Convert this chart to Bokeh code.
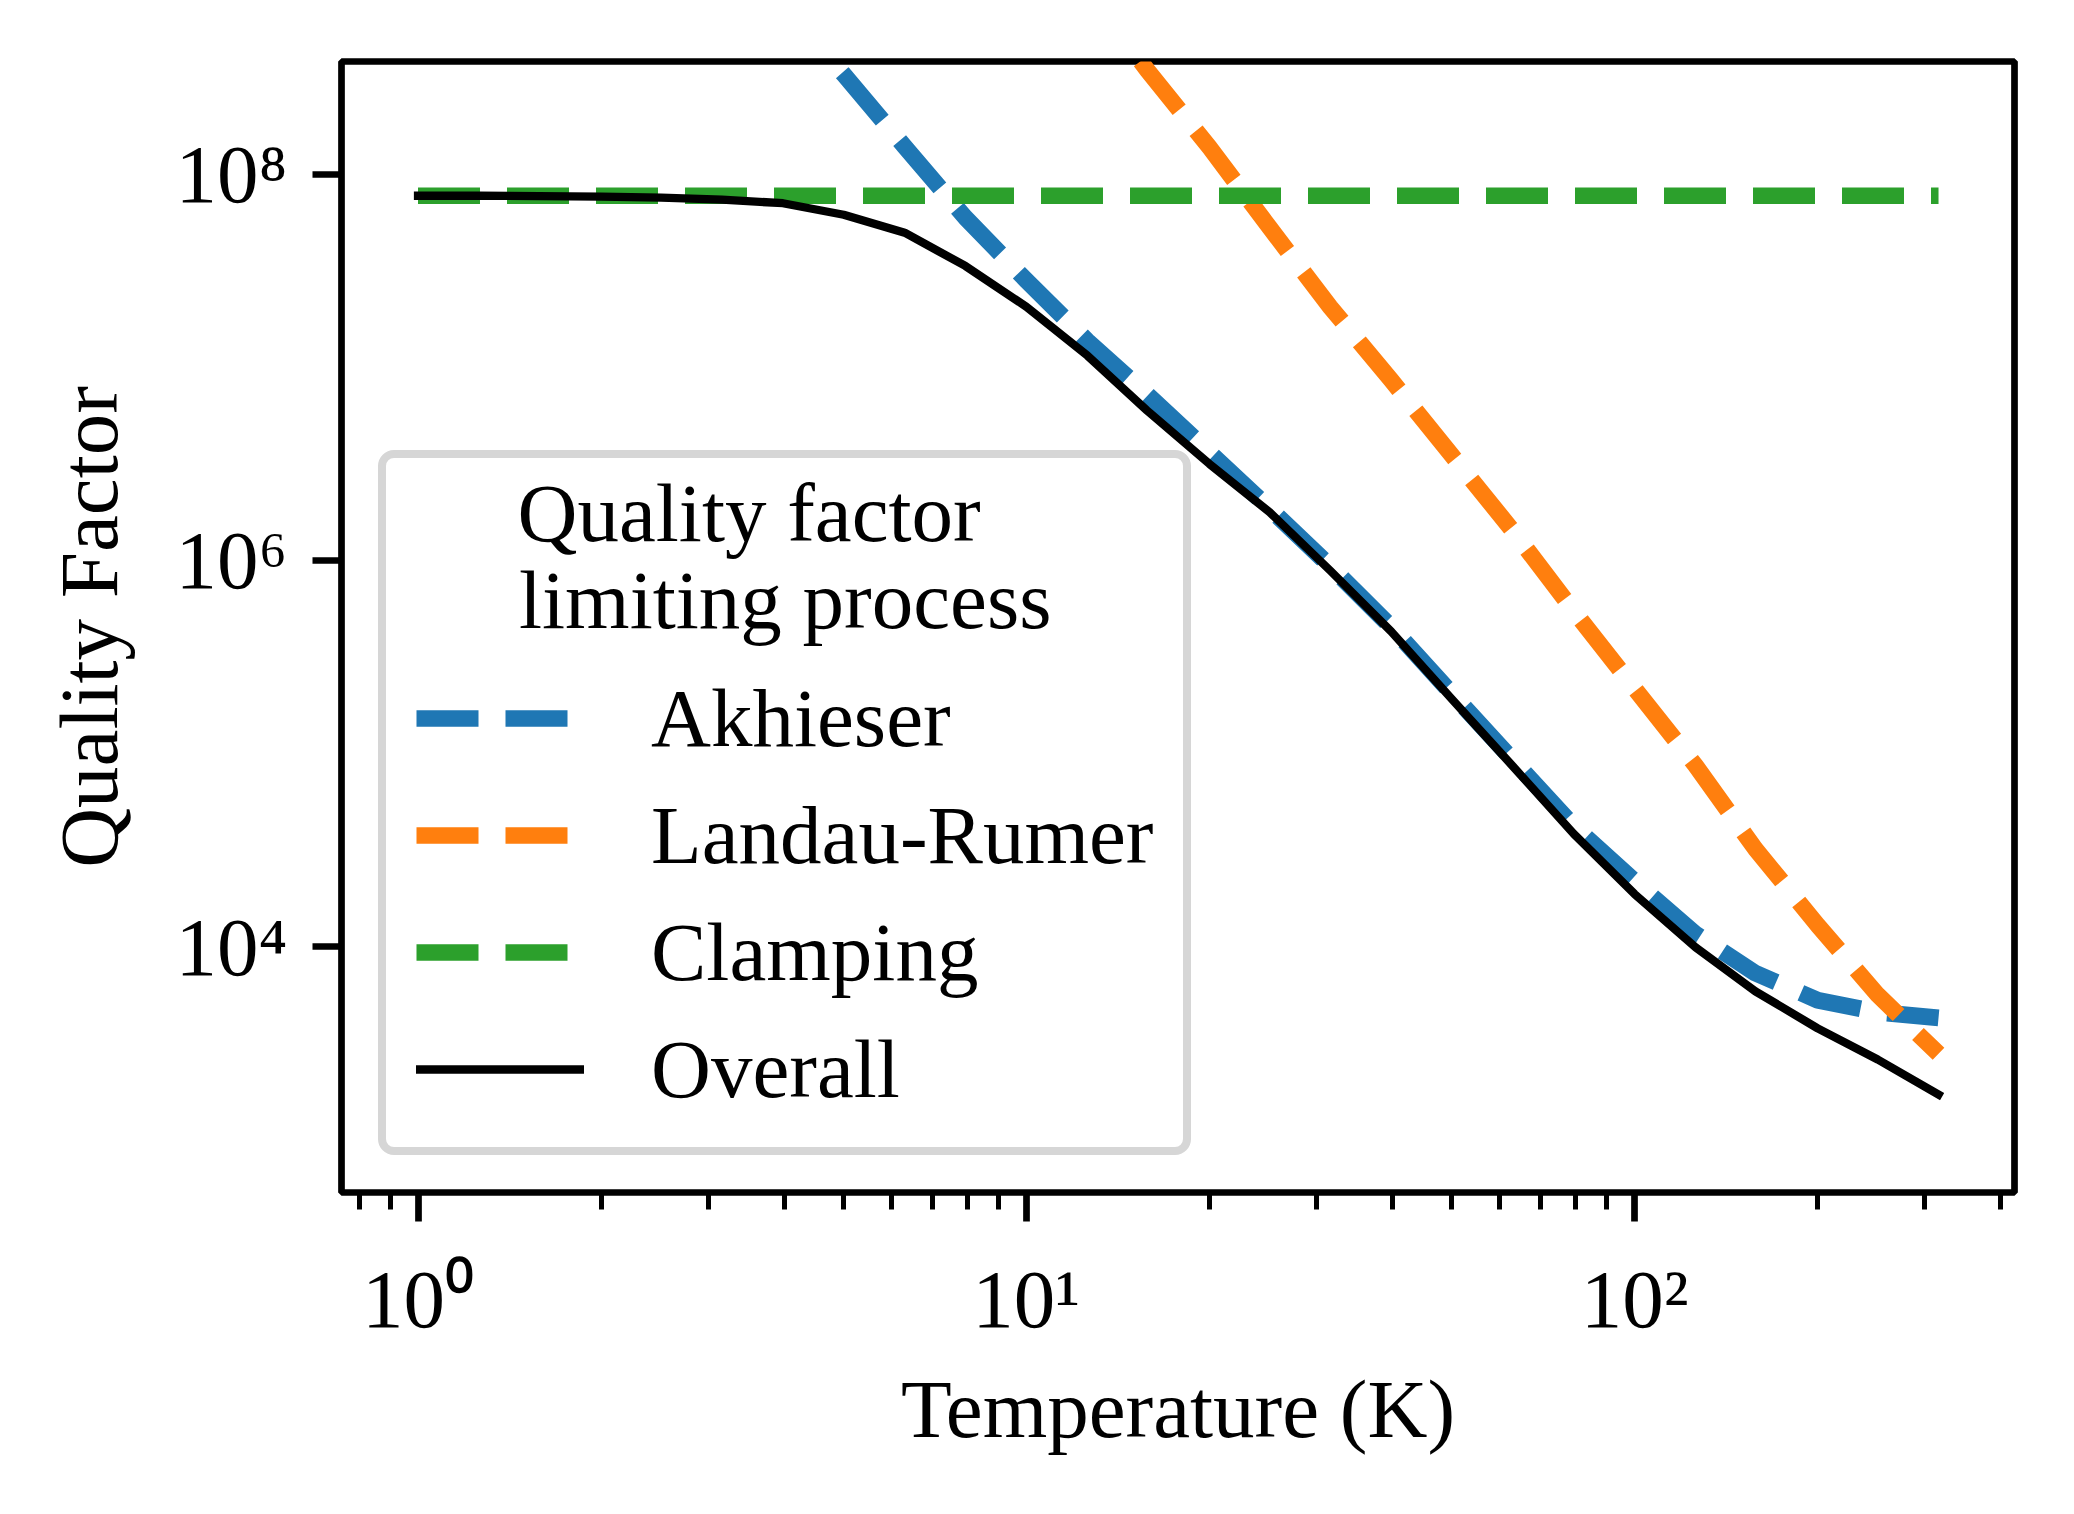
import math
from bokeh.plotting import figure
from bokeh.models import Range1d, FixedTicker, Label, Legend, LegendItem
from bokeh.embed import file_html
from bokeh.resources import INLINE

# ---------------- data ----------------
T_overall = [1.0, 1.26, 1.58, 2.0, 2.51, 3.16, 3.98, 5.01, 6.31, 7.94, 10.0, 12.6, 15.8,
             20.0, 25.1, 31.6, 39.8, 50.1, 63.1, 79.4, 100.0, 126.0, 158.0, 200.0, 251.0, 316.0]
Q_overall = [7.74e7, 7.74e7, 7.71e7, 7.66e7, 7.57e7, 7.38e7, 7.08e7, 6.17e7, 4.98e7, 3.35e7,
             2.06e7, 1.15e7, 5.97e6, 3.16e6, 1.78e6, 8.85e5, 4.28e5, 1.91e5, 8.57e4, 3.84e4,
             1.87e4, 9.89e3, 5.86e3, 3.77e3, 2.60e3, 1.71e3]

T_akhieser = [3.98, 5.01, 6.31, 7.94, 10.0, 12.6, 15.8, 20.0, 25.1, 31.6, 39.8, 50.1, 63.1,
              79.4, 100.0, 126.0, 158.0, 200.0, 251.0, 316.0]
Q_akhieser = [7.41e8, 3.29e8, 1.39e8, 5.96e7, 2.82e7, 1.37e7, 7.24e6, 3.63e6, 1.86e6, 9.33e5,
              4.52e5, 2.04e5, 9.23e4, 4.22e4, 2.18e4, 1.16e4, 7.28e3, 5.27e3, 4.57e3, 4.27e3]

T_landau = [12.6, 15.8, 20.0, 25.1, 31.6, 39.8, 50.1, 63.1, 79.4, 100.0, 126.0, 158.0, 200.0,
            251.0, 316.0]
Q_landau = [9.02e8, 3.47e8, 1.38e8, 5.31e7, 2.05e7, 8.59e6, 3.49e6, 1.42e6, 5.48e5, 2.17e5,
            8.65e4, 3.20e4, 1.29e4, 5.62e3, 2.78e3]

T_clamping = [1.0, 316.0]
Q_clamping = [7.74e7, 7.74e7]

x_major = [1, 10, 100]
x_major_labels = ["10\u2070", "10\u00b9", "10\u00b2"]
y_major = [10000, 1000000, 100000000]
y_major_labels = ["10\u2074", "10\u2076", "10\u2078"]

series_labels = ["Akhieser", "Landau-Rumer", "Clamping", "Overall"]
legend_title_lines = ["Quality factor", "limiting process"]
x_title = "Temperature (K)"
y_title = "Quality Factor"

# ---------------- style ----------------
FONT = "Liberation Serif"
FS = "83px"
C_BLUE, C_ORANGE, C_GREEN = "#1f77b4", "#ff7f0e", "#2ca02c"

x0, x1 = 0.7485, 421.3
y0, y1 = 10 ** 2.726, 10 ** 8.584

p = figure(width=2058, height=1498, x_axis_type="log", y_axis_type="log",
           x_range=Range1d(x0, x1), y_range=Range1d(y0, y1),
           output_backend="svg", toolbar_location=None,
           min_border_left=341, min_border_right=44, min_border_top=61, min_border_bottom=306)
p.background_fill_color = "white"
p.border_fill_color = "white"
p.outline_line_color = "black"
p.outline_line_width = 6.7
p.xgrid.grid_line_color = None
p.ygrid.grid_line_color = None

p.xaxis.ticker = FixedTicker(ticks=x_major,
                             minor_ticks=[m * d for d in [0.1, 1, 10, 100] for m in range(2, 10)
                                          if x0 <= m * d <= x1])
p.yaxis.ticker = FixedTicker(ticks=y_major, minor_ticks=[])
p.xaxis.major_label_overrides = dict(zip(x_major, x_major_labels))
p.yaxis.major_label_overrides = dict(zip(y_major, y_major_labels))
for ax in (p.xaxis[0], p.yaxis[0]):
    ax.axis_line_color = None
    ax.major_tick_line_color = "black"
    ax.major_tick_line_width = 6.7
    ax.major_tick_in = 0
    ax.major_tick_out = 29
    ax.minor_tick_line_color = "black"
    ax.minor_tick_line_width = 5
    ax.minor_tick_in = 0
    ax.minor_tick_out = 17
    ax.major_label_text_font = FONT
    ax.major_label_text_font_size = FS
    ax.major_label_text_color = "black"
    ax.axis_label_text_font = FONT
    ax.axis_label_text_font_size = FS
    ax.axis_label_text_font_style = "normal"
    ax.axis_label_text_color = "black"
p.xaxis.major_label_standoff = 31
p.yaxis.major_label_standoff = 25
p.xaxis.axis_label = x_title
p.yaxis.axis_label = y_title
p.xaxis.axis_label_standoff = 15
p.yaxis.axis_label_standoff = 38

dash = "62 27"
r_a = p.line(T_akhieser, Q_akhieser, line_color=C_BLUE, line_width=16.7, line_dash=dash,
             line_join="round")
r_l = p.line(T_landau, Q_landau, line_color=C_ORANGE, line_width=16.7, line_dash=dash,
             line_join="round")
r_c = p.line(T_clamping, Q_clamping, line_color=C_GREEN, line_width=16.7, line_dash=dash,
             line_join="round")
r_o = p.line(T_overall, Q_overall, line_color="black", line_width=8.3, line_join="round",
             line_cap="square")

# ---------------- legend ----------------
legend = Legend(items=[LegendItem(label=lab, renderers=[r])
                       for lab, r in zip(series_labels, [r_a, r_l, r_c, r_o])],
                location="bottom_left", margin=37, padding=30, spacing=21,
                glyph_width=168, glyph_height=40, label_standoff=67,
                label_text_font=FONT, label_text_font_size=FS, label_text_color="black",
                title="\u00a0", title_text_font=FONT, title_text_font_size=FS,
                title_text_font_style="normal", title_standoff=86,
                border_line_color="#d6d6d6", border_line_width=8.3, border_line_alpha=1.0,
                background_fill_color="white", background_fill_alpha=0.0)
if "border_radius" in Legend.properties():
    legend.border_radius = 16
p.add_layout(legend)

# legend title, two left-aligned lines drawn in the legend's title area
for line_text, x_off, y_off in zip(legend_title_lines, [176, 177.5], [680, 592.8]):
    p.add_layout(Label(x=x0, y=y0, x_units="data", y_units="data", text=line_text,
                       x_offset=x_off, y_offset=y_off, text_align="left",
                       text_baseline="alphabetic", text_font=FONT, text_font_size=FS,
                       text_color="black", level="overlay"))

open("out.html", "w").write(file_html(p, INLINE))
